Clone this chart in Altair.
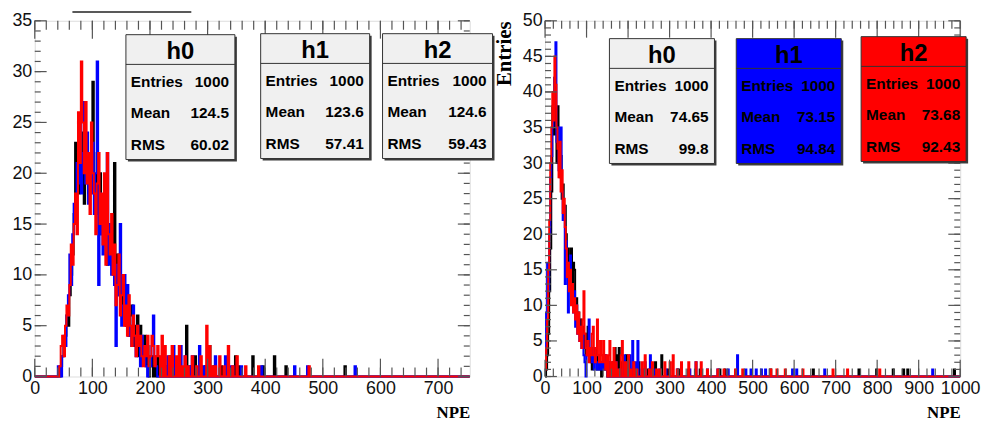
import altair as alt
import pandas as pd

# ---------------- data ----------------
BIN_W = 2.5
L_XMAX = 755.0
R_XMAX = 1000.0
L_YMAX = 35
R_YMAX = 50
L_DENSE_START = 40.0   # first bin edge of the dense part (left panel)
R_DENSE_START = 0.0

# left panel, dense part, one value per 2.5-wide bin from 40
L_h0 = [0, 0, 1, 2, 3, 4, 6, 5, 8, 10, 12, 16, 23, 19, 18, 22, 20, 24, 17, 21,
        23, 18, 20, 24, 29, 19, 17, 22, 16, 20, 14, 17, 13, 16, 11, 15, 12, 14, 11, 21,
        9, 12, 8, 10, 6, 9, 7, 5, 8, 4, 6, 7, 3, 5, 4, 6, 2, 5, 3, 2,
        4, 1, 3, 0, 1, 2, 0, 1, 0, 2]
L_h1 = [1, 1, 0, 2, 4, 3, 6, 8, 12, 9, 14, 17, 16, 21, 19, 25, 18, 22, 27, 19,
        24, 17, 21, 18, 23, 16, 20, 31, 9, 18, 14, 12, 16, 13, 22, 11, 15, 10, 12, 9,
        3, 11, 8, 15, 5, 7, 10, 6, 9, 4, 5, 3, 7, 4, 2, 5, 3, 1, 4, 2,
        3, 1, 0, 2, 1, 3, 6, 2, 1, 0]
L_h2 = [0, 1, 3, 4, 2, 5, 7, 6, 9, 13, 11, 15, 18, 14, 26, 21, 31, 25, 20, 27,
        19, 22, 16, 25, 20, 18, 14, 19, 22, 15, 18, 13, 20, 11, 22, 14, 12, 16, 10, 13,
        7, 9, 12, 6, 8, 10, 5, 7, 4, 8, 5, 3, 6, 4, 2, 5, 3, 4, 2, 1,
        3, 2, 4, 1, 2, 4, 3, 1, 2, 3]
# left panel, sparse tails (bin edge, count)
L_h0_tail_x = [217.5, 222.5, 227.5, 235, 242.5, 250, 262.5, 270, 277.5, 287.5, 295, 302.5,
               310, 322.5, 347.5, 352.5, 377.5, 395, 415, 435, 537.5]
L_h0_tail_n = [1, 2, 1, 2, 1, 2, 5, 1, 2, 1, 1, 3, 1, 1, 2, 1, 2, 1, 2, 1, 1]
L_h1_tail_x = [220, 225, 230, 240, 247.5, 252.5, 260, 267.5, 272.5, 285, 292.5, 300,
               312.5, 330, 337.5, 342.5, 357.5, 392.5, 450, 472.5, 555]
L_h1_tail_n = [2, 1, 2, 3, 1, 3, 2, 1, 2, 3, 1, 1, 2, 2, 1, 1, 1, 1, 1, 1, 1]
L_h2_tail_x = [215, 220, 225, 232.5, 237.5, 245, 250, 255, 260, 265, 272.5, 280, 287.5,
               297.5, 302.5, 307.5, 312.5, 320, 327.5, 335, 342.5, 350, 365, 387.5, 475]
L_h2_tail_n = [2, 4, 3, 2, 3, 2, 3, 1, 2, 1, 2, 1, 2, 5, 3, 1, 1, 2, 1, 3, 1, 2, 1, 1, 1]

# right panel, dense part, one value per 2.5-wide bin from 0
R_h0 = [0, 1, 3, 6, 12, 18, 26, 38, 34, 42, 36, 30, 38, 33, 28, 31, 25, 27, 22, 24,
        20, 17, 18, 15, 14, 18, 12, 16, 15, 10, 11, 8, 9, 6, 8, 5, 7, 4, 6, 3,
        5, 7, 4, 3, 2, 1, 3, 2, 4, 2, 1, 3, 1, 2, 0, 1, 2, 3, 1, 2]
R_h1 = [3, 9, 16, 12, 20, 28, 31, 35, 38, 42, 47, 33, 35, 29, 30, 35, 26, 22, 24, 13,
        19, 16, 9, 14, 17, 11, 13, 9, 12, 7, 10, 6, 8, 5, 7, 4, 6, 3, 2, 0,
        3, 5, 8, 4, 3, 2, 4, 1, 3, 2, 1, 2, 3, 1, 2, 1, 2, 1, 3, 1]
R_h2 = [1, 4, 8, 15, 22, 30, 35, 40, 36, 45, 41, 35, 32, 28, 33, 26, 29, 23, 25, 21,
        18, 14, 16, 12, 15, 10, 13, 9, 11, 8, 10, 6, 9, 5, 7, 4, 8, 12, 6, 4,
        3, 5, 2, 4, 3, 6, 7, 3, 2, 4, 8, 3, 2, 5, 3, 2, 5, 2, 1, 3]
R_h0_tail_x = [152.5, 157.5, 162.5, 167.5, 172.5, 177.5, 182.5, 187.5, 195, 200, 207.5, 215,
               225, 237.5, 247.5, 265, 280, 295, 320, 345, 372.5, 420, 432.5, 542.5, 645,
               755, 797.5, 837.5, 862.5, 872.5, 985]
R_h0_tail_n = [2, 1, 2, 4, 3, 4, 2, 1, 3, 2, 1, 1, 2, 1, 1, 2, 3, 1, 1, 1, 1, 1, 1, 1, 1,
               1, 1, 1, 1, 1, 1]
R_h1_tail_x = [155, 160, 170, 180, 190, 197.5, 202.5, 210, 217.5, 222.5, 232.5, 240, 252.5,
               260, 275, 290, 317.5, 347.5, 362.5, 390, 415, 440, 462.5, 482.5, 495, 507.5,
               520, 530, 595, 605, 672.5, 932.5]
R_h1_tail_n = [2, 1, 2, 1, 3, 2, 3, 5, 2, 5, 1, 2, 3, 1, 1, 1, 1, 1, 2, 1, 1, 1, 3, 1, 1, 1,
               1, 1, 1, 1, 1, 1]
R_h2_tail_x = [152.5, 155, 160, 165, 170, 175, 182.5, 185, 192.5, 200, 205, 212.5, 220, 232.5,
               240, 250, 257.5, 267.5, 275, 287.5, 300, 307.5, 317.5, 327.5, 345, 362.5, 375,
               390, 415, 430, 457.5, 475, 542.5, 557.5, 577.5, 620, 692.5, 727.5, 805]
R_h2_tail_n = [3, 5, 2, 4, 2, 1, 3, 5, 2, 3, 1, 2, 1, 2, 3, 1, 2, 1, 1, 2, 2, 3, 1, 2, 2, 2, 2,
               1, 1, 1, 1, 1, 1, 1, 1, 1, 1, 1, 1]

SERIES = ["h0", "h1", "h2"]
L_ENTRIES = ["1000", "1000", "1000"]
L_MEAN = ["124.5", "123.6", "124.6"]
L_RMS = ["60.02", "57.41", "59.43"]
R_ENTRIES = ["1000", "1000", "1000"]
R_MEAN = ["74.65", "73.15", "73.68"]
R_RMS = ["99.8", "94.84", "92.43"]
STAT_LABELS = "Entries\nMean\nRMS"
X_TITLE = "NPE"
Y_TITLE = "Entries"

# ---------------- styles / layout ----------------
COLORS = ["#000000", "#0000ff", "#ff0000"]
SANS = "Liberation Sans"
SERIF = "Liberation Serif"
TICK = "#555555"
L_W, L_H = 439, 359
R_W, R_H = 419, 359
# stat boxes: (left, top, width, height) in panel pixels
L_BOXES = [(92, 14, 110, 126), (228, 13, 110, 126), (351, 13, 111, 126)]
R_BOXES = [(65, 18, 106, 126), (193, 18, 106, 126), (319, 16, 106, 126)]
L_FILLS = ["#f0f0f0", "#f0f0f0", "#f0f0f0"]
R_FILLS = ["#f0f0f0", "#0000ff", "#ff0000"]


def hist_df(start, xmax, dense, tail_x, tail_n):
    nb = int(round(xmax / BIN_W))
    counts = [0] * nb
    i0 = int(round(start / BIN_W))
    for k, v in enumerate(dense):
        counts[i0 + k] = v
    for tx, tn in zip(tail_x, tail_n):
        counts[int(round(tx / BIN_W))] = tn
    xs = [i * BIN_W for i in range(nb)] + [xmax]
    ns = counts + [counts[-1]]
    return pd.DataFrame({"x": xs, "y": ns})


one = pd.DataFrame({"k": [0]})


def box_layers(b, fill, name, e, m, r):
    bx, by, bw, bh = b
    base = alt.Chart(one)
    return [
        base.mark_rect(color="#3c3c3c").encode(
            x=alt.value(bx + 2), x2=alt.value(bx + bw + 2),
            y=alt.value(by + 2), y2=alt.value(by + bh + 2)),
        base.mark_rect(fill=fill, stroke="#333333", strokeWidth=1).encode(
            x=alt.value(bx), x2=alt.value(bx + bw),
            y=alt.value(by), y2=alt.value(by + bh)),
        base.mark_rule(color="#333333", strokeWidth=1).encode(
            x=alt.value(bx), x2=alt.value(bx + bw), y=alt.value(by + 30)),
        base.mark_text(font=SANS, fontSize=24, fontWeight="bold", align="center",
                       baseline="alphabetic", color="#000000").encode(
            x=alt.value(bx + bw / 2), y=alt.value(by + 25), text=alt.value(name)),
        base.mark_text(font=SANS, fontSize=15.5, fontWeight="bold", align="left",
                       baseline="alphabetic", lineBreak="\n", lineHeight=31.5,
                       color="#000000").encode(
            x=alt.value(bx + 5), y=alt.value(by + 53), text=alt.value(STAT_LABELS)),
        base.mark_text(font=SANS, fontSize=15.5, fontWeight="bold", align="right",
                       baseline="alphabetic", lineBreak="\n", lineHeight=31.5,
                       color="#000000").encode(
            x=alt.value(bx + bw - 6), y=alt.value(by + 53),
            text=alt.value(f"{e}\n{m}\n{r}")),
    ]


def panel(W, H, xmax, ymax, start, dense, tails, xmajor, xminor, ymajor, yminor,
          ytitle, boxes, fills, ents, means, rmss, xt_len, extra):
    xs = alt.Scale(domain=[0, xmax], nice=False, zero=False)
    ys = alt.Scale(domain=[0, ymax], nice=False, zero=False)
    xaxis = alt.Axis(values=xmajor, ticks=False, domain=False, grid=False, format="d",
                     labelFont=SANS, labelFontSize=18, labelColor="#111111",
                     labelPadding=3, labelFlush=False, labelOverlap=False,
                     title=X_TITLE, titleFont=SERIF, titleFontSize=17,
                     titleFontWeight="bold", titleColor="#000000", titleAnchor="end",
                     titleAlign="right", titleBaseline="alphabetic",
                     titleX=W, titleY=41)
    yargs = dict(values=ymajor, ticks=False, domain=False, grid=False, format="d",
                 labelFont=SANS, labelFontSize=18, labelColor="#111111",
                 labelPadding=3, labelFlush=False, labelOverlap=False)
    if ytitle:
        yaxis = alt.Axis(title=ytitle, titleFont=SERIF, titleFontSize=21,
                         titleFontWeight="bold", titleColor="#000000", titleAngle=270,
                         titleAnchor="end", titleAlign="right",
                         titleBaseline="alphabetic", titleX=-35, titleY=0, **yargs)
    else:
        yaxis = alt.Axis(title=None, **yargs)
    X = alt.X("x:Q", scale=xs, axis=xaxis)
    Y = alt.Y("y:Q", scale=ys, axis=yaxis)
    layers = []
    for d, (tx, tn), col in zip(dense, tails, COLORS):
        df = hist_df(start, xmax, d, tx, tn)
        layers.append(alt.Chart(df).mark_line(interpolate="step-after", color=col,
                                              strokeWidth=2).encode(x=X, y=Y))
    # ROOT-style inward ticks
    for vals, ln in ((xmajor, xt_len[0]), (xminor, xt_len[1])):
        dfx = pd.DataFrame({"x": vals})
        layers.append(alt.Chart(dfx).mark_rule(color=TICK, strokeWidth=1.2).encode(
            x=X, y=alt.value(H), y2=alt.value(H - ln)))
        layers.append(alt.Chart(dfx).mark_rule(color=TICK, strokeWidth=1.2).encode(
            x=X, y=alt.value(0), y2=alt.value(ln)))
    for vals, ln in ((ymajor, 12), (yminor, 6)):
        dfy = pd.DataFrame({"y": vals})
        layers.append(alt.Chart(dfy).mark_rule(color=TICK, strokeWidth=1.2).encode(
            y=Y, x=alt.value(0), x2=alt.value(ln)))
        layers.append(alt.Chart(dfy).mark_rule(color=TICK, strokeWidth=1.2).encode(
            y=Y, x=alt.value(W - ln), x2=alt.value(W)))
    layers += extra
    for b, f, n, e, m, r in zip(boxes, fills, SERIES, ents, means, rmss):
        layers += box_layers(b, f, n, e, m, r)
    return alt.layer(*layers).properties(width=W, height=H)


title_stub = [alt.Chart(one).mark_rule(color="#222222", strokeWidth=1.5).encode(
    x=alt.value(38), x2=alt.value(158), y=alt.value(-9))]

left = panel(L_W, L_H, L_XMAX, L_YMAX, L_DENSE_START, [L_h0, L_h1, L_h2],
             [(L_h0_tail_x, L_h0_tail_n), (L_h1_tail_x, L_h1_tail_n),
              (L_h2_tail_x, L_h2_tail_n)],
             list(range(0, 701, 100)), list(range(0, 741, 20)),
             list(range(0, 36, 5)), list(range(0, 36, 1)),
             None, L_BOXES, L_FILLS, L_ENTRIES, L_MEAN, L_RMS, (18, 9), title_stub)

right = panel(R_W, R_H, R_XMAX, R_YMAX, R_DENSE_START, [R_h0, R_h1, R_h2],
              [(R_h0_tail_x, R_h0_tail_n), (R_h1_tail_x, R_h1_tail_n),
               (R_h2_tail_x, R_h2_tail_n)],
              list(range(0, 1001, 100)), list(range(0, 1001, 20)),
              list(range(0, 51, 5)), list(range(0, 51, 1)),
              Y_TITLE, R_BOXES, R_FILLS, R_ENTRIES, R_MEAN, R_RMS, (17, 8), [])

chart = alt.hconcat(left, right, spacing=76, bounds="flush").properties(
    padding={"left": 3, "top": 0, "right": 0, "bottom": 0}
).configure_view(stroke="#222222", strokeWidth=1.5).configure(font=SANS)

chart.save("out.html", embed_options={"renderer": "svg", "actions": False})
